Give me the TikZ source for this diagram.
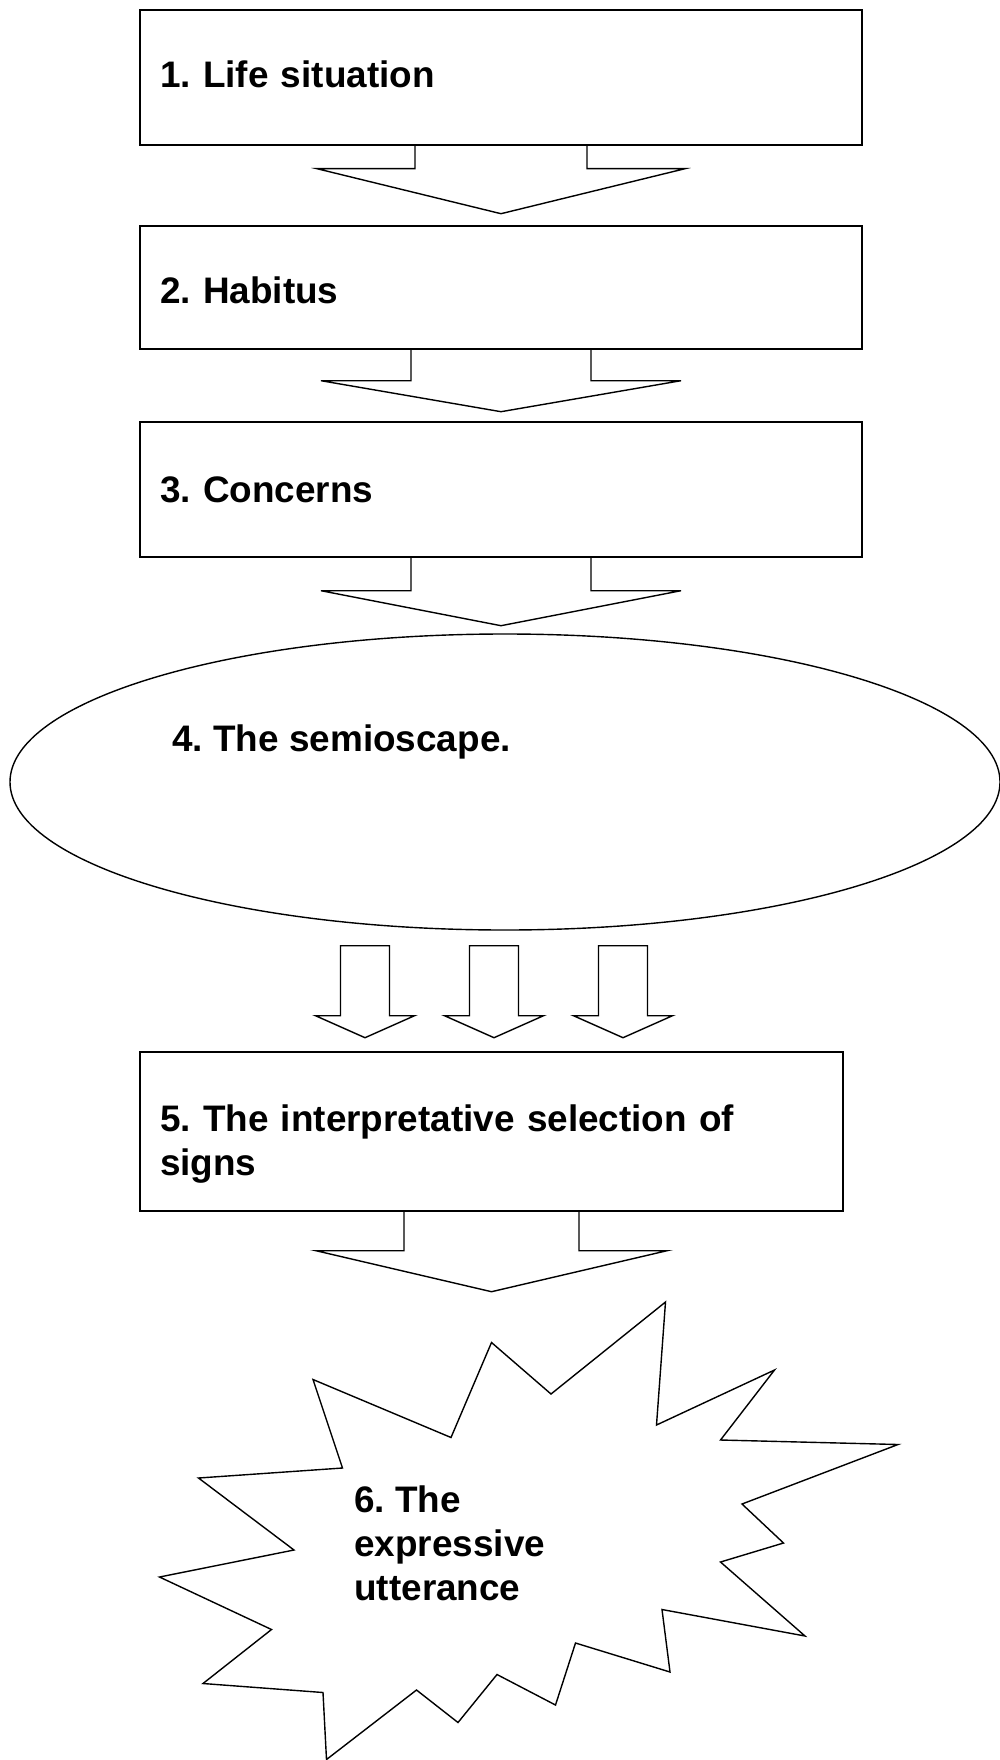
\documentclass[tikz,border=0pt]{standalone}
\usepackage{fontspec}
\setmainfont{Liberation Sans}
\usepackage{tikz}
\usetikzlibrary{calc,shapes.geometric}
\frenchspacing
\newcommand{\fatarrow}[5]{%
  \draw[flow] ($(#1)+(-#4,0)$) -- ++(0,#2) -- ++(#4-#5,0) -- ($(#1)+(0,#2+#3)$)
    -- ($(#1)+(#5,#2)$) -- ++(#4-#5,0) -- ++(0,-#2);}
\newcommand{\slimarrow}[5]{%
  \draw[flow] ($(#1)+(-#4,0)$) -- ++(0,#2) -- ++(#4-#5,0) -- ($(#1)+(0,#2+#3)$)
    -- ($(#1)+(#5,#2)$) -- ++(#4-#5,0) -- ++(0,-#2) -- cycle;}

\begin{document}
\begin{tikzpicture}[x=0.5pt,y=-0.5pt,
    stage/.style={draw, line width=0.7pt, inner xsep=10pt, inner ysep=0pt, align=left, font=\bfseries\fontsize{18.45}{22}\selectfont},
    scape/.style={draw, ellipse, line width=0.7pt, minimum width=495pt, minimum height=148pt, inner sep=0pt},
    lbl/.style={inner sep=0pt, align=left, font=\bfseries\fontsize{18.45}{22}\selectfont},
    flow/.style={draw, line width=0.7pt, line join=miter}
]
\useasboundingbox (0,0) rectangle (1000,1760);

\node[stage, minimum width=361pt, minimum height=67.5pt, text width=341pt, text depth=3.4pt] (life) at (501,77.5) {1. Life situation};
\node[stage, minimum width=361pt, minimum height=61.5pt, text width=341pt, text height=16.6pt] (habitus) at (501,287.5) {2. Habitus};
\node[stage, minimum width=361pt, minimum height=67.5pt, text width=341pt] (concerns) at (501,489.5) {3. Concerns};
\node[scape] (semio) at (505,782) {};
\node[lbl, anchor=west] (semiotxt) at (172,742) {4. The semioscape.};
\node[stage, minimum width=351.5pt, minimum height=79.5pt, text width=331.5pt, text height=25.5pt] (selection) at (491.5,1131.5) {5. The interpretative selection of\\signs};

\fatarrow{life.south}{23}{45}{86}{184}
\fatarrow{habitus.south}{31}{31}{90}{180}
\fatarrow{concerns.south}{33}{35}{90}{180}
\fatarrow{selection.south}{39}{41}{87.5}{175.5}

\coordinate (s1) at ($(semio.south)+(-140,15)$);
\coordinate (s2) at ($(semio.south)+(-11,15)$);
\coordinate (s3) at ($(semio.south)+(118,15)$);
\slimarrow{s1}{70}{22}{24.5}{49.5}
\slimarrow{s2}{70}{22}{24.5}{49.5}
\slimarrow{s3}{70}{22}{24.5}{49.5}

\draw[flow] (665.5,1302) -- (656.5,1425) -- (774.5,1370) -- (720.5,1440) -- (898,1444.5)
  -- (742,1504) -- (783.5,1543) -- (720.5,1562) -- (805,1636) -- (662,1609.5)
  -- (670,1672) -- (575.5,1643) -- (555.5,1705) -- (497,1674.5) -- (458,1722.5)
  -- (416.5,1690) -- (326.5,1759.5) -- (323,1692.5) -- (203,1683.5) -- (271.5,1629.5)
  -- (159.5,1577) -- (294,1550) -- (198.5,1478) -- (342.5,1468) -- (313,1379.5)
  -- (451,1437.5) -- (491.5,1342.5) -- (551,1394) -- cycle;
\node[lbl, anchor=west] (utter) at (354,1543) {6. The\\expressive\\utterance};
\end{tikzpicture}
\end{document}
